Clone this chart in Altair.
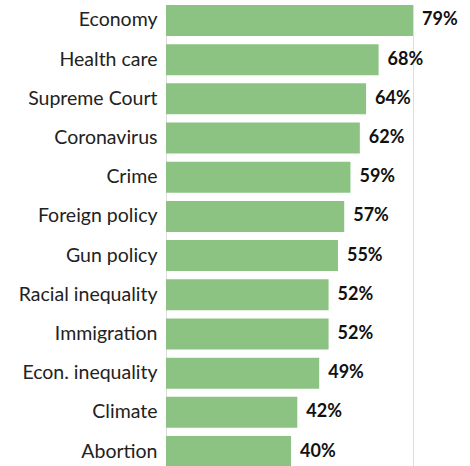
import altair as alt
import pandas as pd

categories = ["Economy", "Health care", "Supreme Court", "Coronavirus", "Crime",
              "Foreign policy", "Gun policy", "Racial inequality", "Immigration",
              "Econ. inequality", "Climate", "Abortion"]
values = [79, 68, 64, 62, 59, 57, 55, 52, 52, 49, 42, 40]
value_labels = [f"{v}%" for v in values]

df = pd.DataFrame({"cat": categories, "val": values, "lab": value_labels})

LABEL_FONT = "Lato"
VALUE_FONT = "Lato"

y = alt.Y("cat:N", sort=categories,
          scale=alt.Scale(paddingInner=0.21, paddingOuter=0),
          axis=alt.Axis(title=None, ticks=False, domain=False, labelFontSize=19.5,
                        labelFont=LABEL_FONT, labelColor="#222222", labelPadding=9,
                        labelLimit=200))
x = alt.X("val:Q", scale=alt.Scale(domain=[0, 79], nice=False, zero=True), axis=None)

bars = alt.Chart(df).mark_bar(color="#8cc383").encode(x=x, y=y)
text = alt.Chart(df).mark_text(align="left", baseline="middle", dx=9, fontSize=18,
                               fontWeight="bold", font=VALUE_FONT, color="#111111").encode(
    x=x, y=y, text="lab:N")

chart = (bars + text).properties(
    width=247, height=462,
    autosize=alt.AutoSizeParams(type="none"),
    padding={"left": 166, "top": 5, "right": 57, "bottom": 0},
).configure_view(stroke=None).configure(background="white")

chart.save("out.html", embed_options={"renderer": "svg", "actions": False})
